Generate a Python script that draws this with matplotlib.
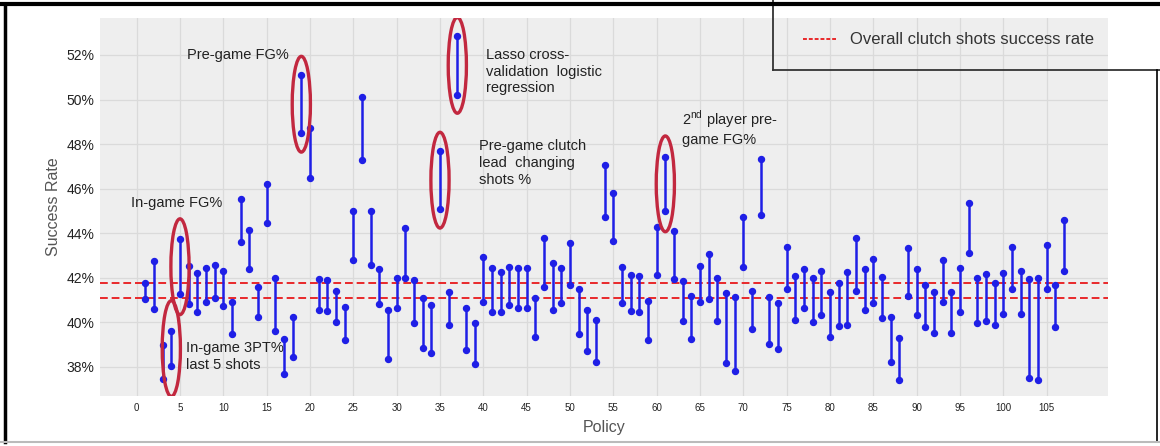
import numpy as np
from matplotlib import pyplot as plt
from matplotlib.patches import Ellipse
from matplotlib.lines import Line2D

plt.rcParams['font.family'] = ['Liberation Sans', 'DejaVu Sans']

# success rate interval per policy (in %)
policies = list(range(1, 108))
upper = [41.78, 42.76, 39.00, 39.62, 43.72, 42.54, 42.19, 42.42, 42.57, 42.30,
         40.91, 45.55, 44.14, 41.60, 46.21, 42.00, 39.23, 40.22, 51.10, 48.74,
         41.93, 41.90, 41.40, 40.70, 45.00, 50.10, 45.00, 42.37, 40.55, 42.00,
         44.23, 41.90, 41.07, 40.77, 47.69, 41.37, 52.87, 40.62, 39.98, 42.94,
         42.42, 42.24, 42.49, 42.42, 42.45, 41.07, 43.80, 42.64, 42.45, 43.54,
         41.48, 40.55, 40.10, 47.06, 45.82, 42.49, 42.12, 42.09, 40.97, 44.29,
         47.43, 44.11, 41.87, 41.18, 42.54, 43.05, 42.00, 41.30, 41.12, 44.74,
         41.40, 47.31, 41.12, 40.88, 43.39, 42.09, 42.37, 41.97, 42.31, 41.37,
         41.75, 42.24, 43.77, 42.37, 42.82, 42.04, 40.22, 39.28, 43.32, 42.37,
         41.67, 41.37, 42.79, 41.37, 42.45, 45.37, 41.97, 42.15, 41.78, 42.22,
         43.39, 42.31, 41.93, 42.01, 43.47, 41.67, 44.59]
lower = [41.06, 40.59, 37.45, 38.02, 41.27, 40.80, 40.47, 40.89, 41.07, 40.74,
         39.47, 43.62, 42.37, 40.22, 44.44, 39.60, 37.66, 38.42, 48.48, 46.46,
         40.55, 40.50, 40.00, 39.20, 42.79, 47.28, 42.57, 40.82, 38.33, 40.65,
         41.97, 39.95, 38.83, 38.63, 45.07, 39.90, 50.20, 38.75, 38.12, 40.92,
         40.47, 40.44, 40.77, 40.65, 40.65, 39.32, 41.60, 40.55, 40.85, 41.67,
         39.47, 38.72, 38.23, 44.74, 43.65, 40.85, 40.50, 40.44, 39.20, 42.12,
         45.00, 41.93, 40.07, 39.23, 40.92, 41.06, 40.05, 38.15, 37.82, 42.49,
         39.72, 44.81, 39.02, 38.80, 41.48, 40.10, 40.62, 40.02, 40.32, 39.35,
         39.83, 39.90, 41.40, 40.55, 40.85, 40.17, 38.23, 37.40, 41.18, 40.32,
         39.77, 39.50, 40.89, 39.53, 40.44, 43.12, 39.95, 40.07, 39.90, 40.37,
         41.48, 40.37, 37.51, 37.43, 41.51, 39.80, 42.31]

overall_rate = [41.75, 41.07]

highlighted = [4, 5, 19, 35, 37, 61]

annotations = [
    ("Pre-game FG%", 5.8, 52.0),
    ("In-game FG%", -0.7, 45.35),
    ("In-game 3PT%\nlast 5 shots", 5.7, 38.45),
    ("Lasso cross-\nvalidation  logistic\nregression", 40.3, 51.25),
    ("Pre-game clutch\nlead  changing\nshots %", 39.5, 47.15),
    ("2$^{\\mathregular{nd}}$ player pre-\ngame FG%", 62.9, 48.75),
]

x_ticks = list(range(0, 110, 5))
y_ticks = [38, 40, 42, 44, 46, 48, 50, 52]
y_tick_labels = [f"{v}%" for v in y_ticks]

fig = plt.figure(figsize=(11.6, 4.46), dpi=100)
ax = fig.add_axes([0.0862, 0.1121, 0.8690, 0.8475])
ax.set_facecolor('#eeeeee')
for s in ax.spines.values():
    s.set_visible(False)
ax.grid(True, color='#dadada', lw=0.9)
ax.set_axisbelow(True)

# overall clutch success rate band
for i, r in enumerate(overall_rate):
    ax.axhline(r, color='#e8282a', ls=(0, (4, 2)), lw=1.4, zorder=2,
               label="Overall clutch shots success rate" if i == 0 else None)

ax.vlines(policies, lower, upper, color='#1f1fe6', lw=1.8, zorder=3)
ax.plot(policies, upper, 'o', color='#1f1fe6', ms=4.3, zorder=3)
ax.plot(policies, lower, 'o', color='#1f1fe6', ms=4.3, zorder=3)

# circle the notable policies
for p in highlighted:
    mid = (upper[p - 1] + lower[p - 1]) / 2
    ax.add_patch(Ellipse((p, mid), width=2.1, height=4.3, fill=False,
                         edgecolor='#c2283f', lw=2.4, zorder=4))

for txt, x, y in annotations:
    ax.text(x, y, txt, fontsize=10.5, color='#222222', va='center', ha='left',
            linespacing=1.25, zorder=5)

ax.set_xlim(-4.23, 112.08)
ax.set_ylim(36.69, 53.66)
ax.set_xticks(x_ticks)
ax.set_yticks(y_ticks)
ax.set_yticklabels(y_tick_labels)
ax.tick_params(axis='x', length=0, pad=5, labelsize=7, labelcolor='#222222')
ax.tick_params(axis='y', length=0, pad=4, labelsize=10, labelcolor='#222222')
ax.set_xlabel("Policy", fontsize=11.5, color='#555555', labelpad=5)
ax.set_ylabel("Success Rate", fontsize=11.5, color='#555555', labelpad=4)

# legend sits in a box hanging off the top right corner
handles = [Line2D([], [], color='#e8282a', ls=(0, (2, 1)), lw=1.4)]
fig.legend(handles, ["Overall clutch shots success rate"], loc='center left',
           bbox_to_anchor=(803 / 1160, 1 - 40 / 446), frameon=False, fontsize=12,
           borderpad=0, borderaxespad=0, handlelength=2.0, handletextpad=0.8,
           labelcolor='#333333')
fig.add_artist(Line2D([773 / 1160, 773 / 1160], [1 - 70 / 446, 1.0], color='#333333', lw=1.3))
fig.add_artist(Line2D([773 / 1160, 1.0], [1 - 70 / 446, 1 - 70 / 446], color='#333333', lw=1.3))

# outer frame
fig.add_artist(Line2D([0, 1], [0.991, 0.991], color='black', lw=3))
fig.add_artist(Line2D([0.0045, 0.0045], [0.008, 0.991], color='black', lw=2.5))
fig.add_artist(Line2D([0.9975, 0.9975], [0.008, 1 - 70 / 446], color='black', lw=1.2))
fig.add_artist(Line2D([0, 1], [0.008, 0.008], color='#bbbbbb', lw=1.5))

fig.savefig("out.png", dpi=100)
